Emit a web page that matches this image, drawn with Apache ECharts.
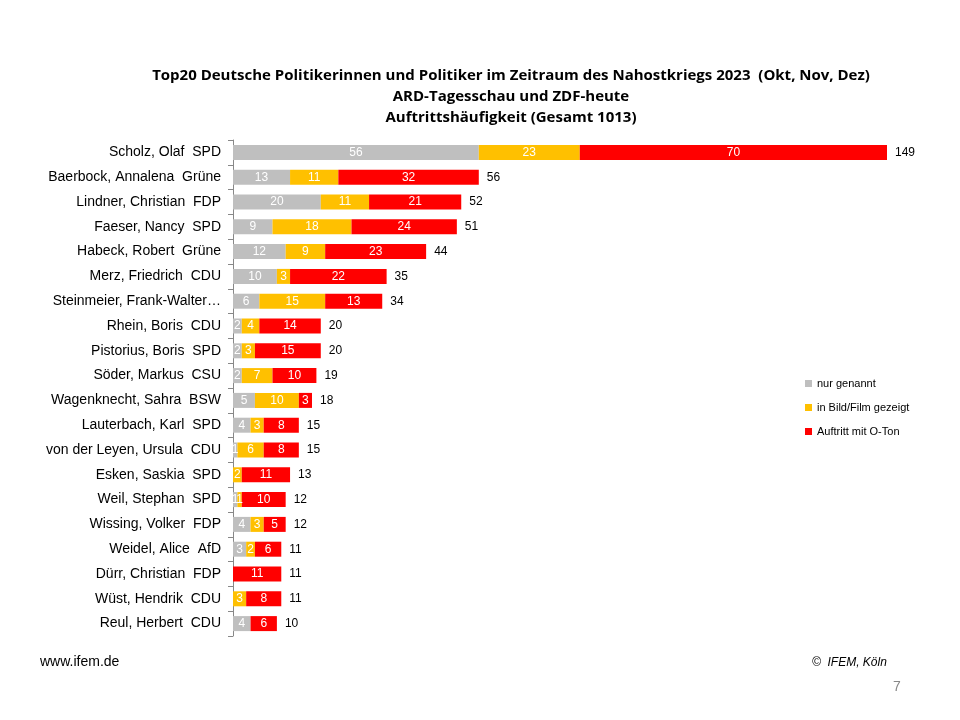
<!DOCTYPE html>
<html>
<head>
<meta charset="utf-8">
<script src="https://cdn.jsdelivr.net/npm/echarts@6/dist/echarts.min.js"></script>
<style>
  html, body { margin: 0; padding: 0; background: #fff; }
  #chart { width: 960px; height: 720px; }
</style>
</head>
<body>
<div id="chart"></div>
<script>
const names = [
  'Scholz, Olaf  SPD', 'Baerbock, Annalena  Grüne', 'Lindner, Christian  FDP', 'Faeser, Nancy  SPD',
  'Habeck, Robert  Grüne', 'Merz, Friedrich  CDU', 'Steinmeier, Frank-Walter…', 'Rhein, Boris  CDU',
  'Pistorius, Boris  SPD', 'Söder, Markus  CSU', 'Wagenknecht, Sahra  BSW', 'Lauterbach, Karl  SPD',
  'von der Leyen, Ursula  CDU', 'Esken, Saskia  SPD', 'Weil, Stephan  SPD', 'Wissing, Volker  FDP',
  'Weidel, Alice  AfD', 'Dürr, Christian  FDP', 'Wüst, Hendrik  CDU', 'Reul, Herbert  CDU'
];
const genannt = [56, 13, 20, 9, 12, 10, 6, 2, 2, 2, 5, 4, 1, 0, 1, 4, 3, 0, 0, 4];
const bild = [23, 11, 11, 18, 9, 3, 15, 4, 3, 7, 10, 3, 6, 2, 1, 3, 2, 0, 3, 0];
const oton = [70, 32, 21, 24, 23, 22, 13, 14, 15, 10, 3, 8, 8, 11, 10, 5, 6, 11, 8, 6];
const totals = [149, 56, 52, 51, 44, 35, 34, 20, 20, 19, 18, 15, 15, 13, 12, 12, 11, 11, 11, 10];

const chart = echarts.init(document.getElementById('chart'));

const inner = {
  show: true,
  color: '#fff',
  fontSize: 12,
  fontFamily: 'Liberation Sans',
  formatter: (p) => (p.value ? p.value : ''),
};

const bar = (name, data, color) => ({
  name,
  type: 'bar',
  stack: 'total',
  barWidth: 15,
  data,
  itemStyle: { color },
  label: inner,
});

chart.setOption({
  animation: false,
  title: {
    text: 'Top20 Deutsche Politikerinnen und Politiker im Zeitraum des Nahostkriegs 2023  (Okt, Nov, Dez)\nARD-Tagesschau und ZDF-heute\nAuftrittshäufigkeit (Gesamt 1013)',
    left: 506,
    top: 60,
    textAlign: 'center',
    textStyle: { fontSize: 15, fontWeight: 'bold', color: '#000', lineHeight: 21, fontFamily: 'Open Sans' },
  },
  legend: {
    orient: 'vertical',
    left: 800,
    top: 373,
    itemWidth: 7,
    itemHeight: 7,
    itemGap: 13,
    icon: 'rect',
    textStyle: { fontSize: 11, color: '#000', fontFamily: 'Liberation Sans' },
    data: ['nur genannt', 'in Bild/Film gezeigt', 'Auftritt mit O-Ton'],
  },
  grid: { left: 233, right: 73, top: 140, bottom: 84, containLabel: false },
  xAxis: {
    type: 'value',
    min: 0,
    max: 149,
    show: false,
  },
  yAxis: {
    type: 'category',
    inverse: true,
    data: names,
    axisLine: { lineStyle: { color: '#888' } },
    axisTick: { show: true, lineStyle: { color: '#888' } },
    axisLabel: { color: '#000', fontSize: 14, fontFamily: 'Liberation Sans', margin: 12 },
  },
  series: [
    bar('nur genannt', genannt, '#bfbfbf'),
    bar('in Bild/Film gezeigt', bild, '#ffc000'),
    bar('Auftritt mit O-Ton', oton, '#ff0000'),
    {
      name: 'Summe',
      type: 'bar',
      stack: 'total',
      barWidth: 15,
      data: totals.map(() => 0),
      itemStyle: { color: 'transparent' },
      label: {
        show: true,
        position: 'right',
        distance: 8,
        color: '#000',
        fontSize: 12,
        fontFamily: 'Liberation Sans',
        formatter: (p) => totals[p.dataIndex],
      },
    },
  ],
  graphic: [
    { type: 'text', left: 40, top: 655, style: { text: 'www.ifem.de', fontSize: 14, fill: '#000', fontFamily: 'Liberation Sans' } },
    { type: 'text', left: 812, top: 657, style: { text: '©  IFEM, Köln', fontSize: 12, fontStyle: 'italic', fill: '#000', fontFamily: 'Liberation Sans' } },
    { type: 'text', left: 893, top: 680, style: { text: '7', fontSize: 14, fill: '#888', fontFamily: 'Liberation Sans' } },
  ],
});
</script>
</body>
</html>
